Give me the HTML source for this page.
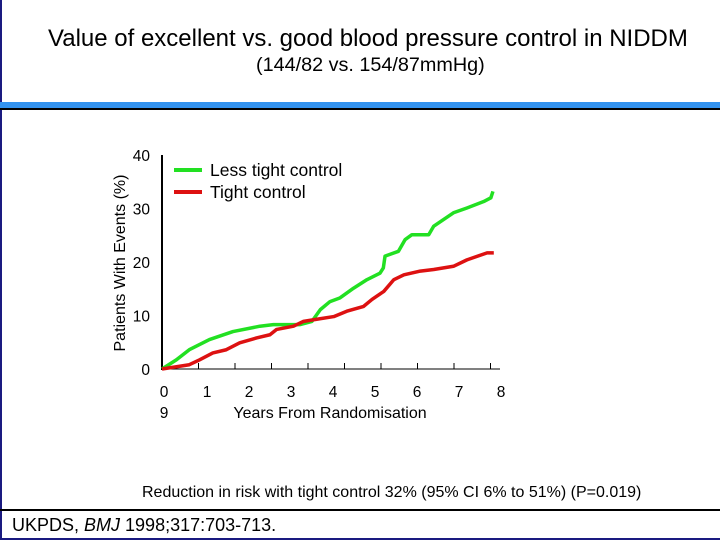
<!DOCTYPE html>
<html><head><meta charset="utf-8"><style>
body{margin:0;width:720px;height:540px;background:#fff;overflow:hidden;position:relative;font-family:"Liberation Sans",sans-serif}
.t{position:absolute;white-space:nowrap;color:#000}
</style></head><body>
<div style="position:absolute;left:0;top:0;width:2px;height:540px;background:#1a1a80"></div>
<div style="position:absolute;left:0;top:538px;width:720px;height:2px;background:#1a1a80"></div>
<div class="t" style="left:48px;top:25px;font-size:24px">Value of excellent vs. good blood pressure control in NIDDM</div>
<div class="t" style="left:256px;top:54px;font-size:19.8px">(144/82 vs. 154/87mmHg)</div>
<div style="position:absolute;left:0;top:102px;width:720px;height:6px;background:#3393f0"></div>
<div style="position:absolute;left:0;top:108px;width:720px;height:2px;background:#000"></div>
<div class="t" style="left:142px;top:484px;font-size:16px">Reduction in risk with tight control 32% (95% CI 6% to 51%) (P=0.019)</div>
<div style="position:absolute;left:0;top:509px;width:720px;height:2px;background:#000"></div>
<div class="t" style="left:12px;top:515px;font-size:18px">UKPDS, <i>BMJ</i> 1998;317:703-713.</div>
<svg id="chart" width="720" height="540" style="position:absolute;left:0;top:0" font-family="Liberation Sans, sans-serif"></svg>
<script>
const yTicks=[0,10,20,30,40];
const xTickLabels=[0,1,2,3,4,5,6,7,8];
const greenX=[0,0.34,0.65,1.13,1.69,2.33,2.65,3.29,3.57,3.77,4.0,4.24,4.56,4.88,5.19,5.27,5.31,5.63,5.79,5.95,6.35,6.47,6.94,7.26,7.66,7.83,7.88];
const greenY=[0,1.7,3.6,5.5,7.0,8.0,8.3,8.3,8.9,11.1,12.6,13.3,15.1,16.7,17.9,18.9,21.1,22.0,24.2,25.1,25.1,26.7,29.2,30.1,31.3,32.0,33.2];
const redX=[0,0.65,0.89,1.21,1.53,1.85,2.25,2.57,2.73,3.13,3.37,3.61,4.09,4.4,4.8,5.0,5.28,5.52,5.76,6.15,6.47,6.94,7.26,7.74,7.9];
const redY=[0,0.8,1.7,3.0,3.6,4.9,5.8,6.4,7.4,8.0,8.9,9.2,9.8,10.8,11.7,13.0,14.5,16.7,17.6,18.3,18.6,19.2,20.4,21.7,21.7];
const svg=document.getElementById('chart');const NS='http://www.w3.org/2000/svg';
const X=v=>162+v*42.0, Y=v=>369-v*5.35;
function mk(t,a){const e=document.createElementNS(NS,t);for(const k in a)e.setAttribute(k,a[k]);svg.appendChild(e);return e;}
let e=mk('line',{x1:162,y1:155,x2:162,y2:370,stroke:'#000','stroke-width':2});


e=mk('line',{x1:162,y1:369,x2:500,y2:369,stroke:'#000','stroke-width':1});


for(let i=1;i<=9;i++){e=mk('line',{x1:162+i*36.5,y1:369,x2:162+i*36.5,y2:363,stroke:'#000','stroke-width':1});

}
yTicks.forEach(v=>{e=mk('text',{x:150,y:Y(v)+6,'font-size':15.5,'text-anchor':'end'});e.textContent=v;

});
xTickLabels.forEach(v=>{e=mk('text',{x:X(v)+2+(v==0?0:1),y:397,'font-size':15.5,'text-anchor':'middle'});e.textContent=v;

});
e=mk('text',{x:164,y:418,'font-size':15.5,'text-anchor':'middle'});e.textContent='9';


e=mk('text',{x:330,y:418,'font-size':16,'text-anchor':'middle'});e.textContent='Years From Randomisation';


e=mk('text',{x:125,y:263,'font-size':16,'text-anchor':'middle',transform:'rotate(-90 125 263)'});e.textContent='Patients With Events (%)';


function pts(xs,ys){return xs.map((x,i)=>X(x)+','+Y(ys[i])).join(' ');}
e=mk('polyline',{points:pts(greenX,greenY),fill:'none',stroke:'#22e022','stroke-width':3.5,'stroke-linejoin':'round'});


e=mk('polyline',{points:pts(redX,redY),fill:'none',stroke:'#dd1111','stroke-width':3.5,'stroke-linejoin':'round'});


e=mk('line',{x1:174,y1:170,x2:202,y2:170,stroke:'#22e022','stroke-width':4});


e=mk('text',{x:210,y:176,'font-size':17.5});e.textContent='Less tight control';


e=mk('line',{x1:174,y1:192,x2:202,y2:192,stroke:'#dd1111','stroke-width':4});


e=mk('text',{x:210,y:198,'font-size':17.5});e.textContent='Tight control';


</script>
</body></html>
